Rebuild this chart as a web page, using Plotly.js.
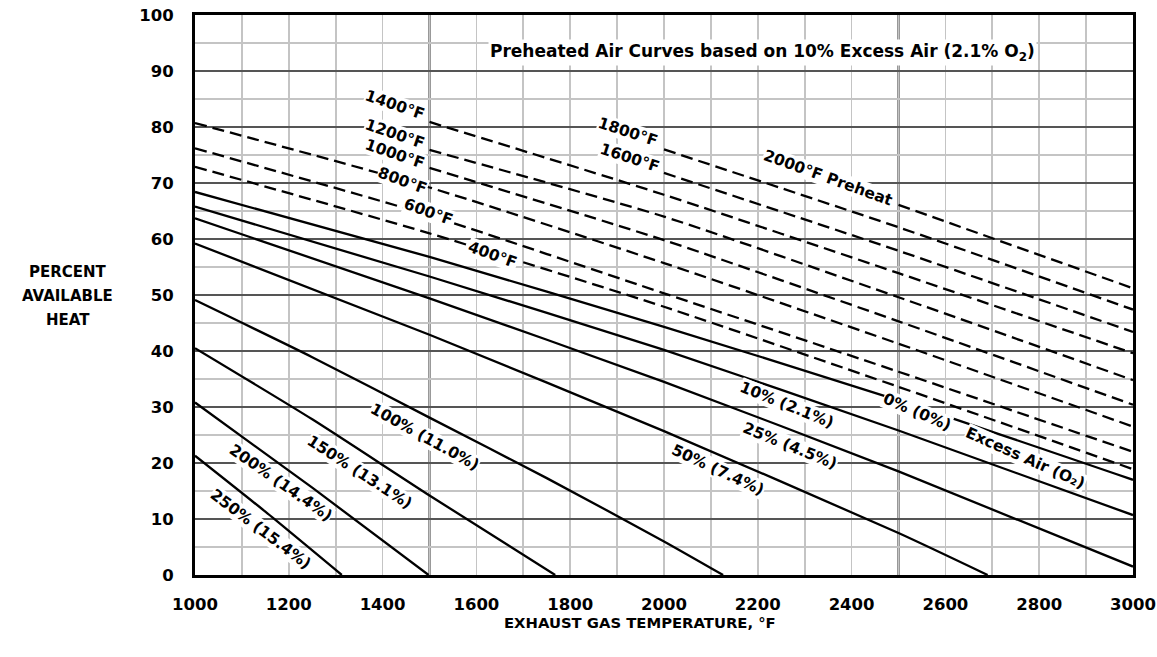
<!DOCTYPE html>
<html><head><meta charset="utf-8">
<script src="https://cdn.plot.ly/plotly-3.0.1.min.js"></script>
<style>html,body{margin:0;padding:0;background:#fff}</style>
</head><body>
<div id="chart" style="width:1157px;height:657px"></div>
<script>
// ---- tick labels ----
const xTickVals = [1000,1200,1400,1600,1800,2000,2200,2400,2600,2800,3000];
const yTickVals = [0,10,20,30,40,50,60,70,80,90,100];

// ---- excess air curves (solid), exhaust temp (°F) vs percent available heat ----
const ea0X   = [1000,1500,2000,2500,3000];
const ea0Y   = [68.4,56.8,44.3,31.2,17.0];
const ea10X  = [1000,1500,2000,2500,3000];
const ea10Y  = [65.8,53.3,40.2,25.8,10.7];
const ea25X  = [1000,1500,2000,2500,3000];
const ea25Y  = [63.7,49.4,34.5,18.5,1.5];
const ea50X  = [1000,1500,2000,2500,2690];
const ea50Y  = [59.2,42.9,25.7,7.5,0];
const ea100X = [1000,1250,1500,1750,2000,2126];
const ea100Y = [49.1,38.9,28.1,17.3,6.0,0];
const ea150X = [1000,1250,1500,1768];
const ea150Y = [40.5,27.8,14.2,0];
const ea200X = [1000,1250,1498];
const ea200Y = [30.8,15.6,0];
const ea250X = [1000,1150,1313];
const ea250Y = [21.3,11.3,0];

// ---- preheated air curves (dashed), 10% excess air ----
const ph400X  = [1000,1500,2000,2500,3000];
const ph400Y  = [72.9,61.0,47.9,33.6,18.9];
const ph600X  = [1000,1500,2000,2500,3000];
const ph600Y  = [76.2,64.2,50.3,36.3,22.0];
const ph800X  = [1000,1500,2000,2500,3000];
const ph800Y  = [80.7,69.2,55.7,41.3,26.5];
const ph1000X = [1500,2000,2500,3000];
const ph1000Y = [72.7,59.8,45.3,30.4];
const ph1200X = [1500,2000,2500,3000];
const ph1200Y = [75.9,64.0,49.6,34.8];
const ph1400X = [1500,2000,2500,3000];
const ph1400Y = [80.9,67.9,53.9,39.6];
const ph1600X = [2000,2500,3000];
const ph1600Y = [71.8,57.9,43.4];
const ph1800X = [2000,2500,3000];
const ph1800Y = [76.0,62.1,47.4];
const ph2000X = [2500,3000];
const ph2000Y = [66.1,51.2];

const solidSeries = [
  ["0%", ea0X, ea0Y], ["10%", ea10X, ea10Y], ["25%", ea25X, ea25Y], ["50%", ea50X, ea50Y],
  ["100%", ea100X, ea100Y], ["150%", ea150X, ea150Y], ["200%", ea200X, ea200Y], ["250%", ea250X, ea250Y]
];
const dashedSeries = [
  ["400°F", ph400X, ph400Y], ["600°F", ph600X, ph600Y], ["800°F", ph800X, ph800Y],
  ["1000°F", ph1000X, ph1000Y], ["1200°F", ph1200X, ph1200Y], ["1400°F", ph1400X, ph1400Y],
  ["1600°F", ph1600X, ph1600Y], ["1800°F", ph1800X, ph1800Y], ["2000°F", ph2000X, ph2000Y]
];

const traces = [];
solidSeries.forEach(s => traces.push({
  x: s[1], y: s[2], name: s[0], type: 'scatter', mode: 'lines',
  line: {color: '#000', width: 2.3, shape: 'spline', smoothing: 0.6}, hoverinfo: 'skip'
}));
dashedSeries.forEach(s => traces.push({
  x: s[1], y: s[2], name: s[0], type: 'scatter', mode: 'lines',
  line: {color: '#000', width: 2.3, dash: '12px,6px', shape: 'spline', smoothing: 0.6}, hoverinfo: 'skip'
}));

// ---- curve labels ----
const curveLabels = [
  ["1400°F", 1426, 83.9, 19], ["1200°F", 1426, 78.75, 19], ["1000°F", 1426, 75.2, 19],
  ["800°F", 1443, 70.4, 20], ["600°F", 1497, 64.8, 20], ["400°F", 1635, 57.1, 20],
  ["1800°F", 1923, 79.1, 18], ["1600°F", 1927, 74.5, 18], ["2000°F Preheat", 2350, 70.9, 20],
  ["10% (2.1%)", 2262, 30.4, 22], ["25% (4.5%)", 2269, 23.0, 22], ["50% (7.4%)", 2115, 18.75, 25],
  ["0% (0%)", 2539, 29.1, 23], ["Excess Air (O₂)", 2770, 20.9, 24],
  ["100% (11.0%)", 1490, 24.6, 29], ["150% (13.1%)", 1350, 18.4, 33],
  ["200% (14.4%)", 1183, 16.4, 35], ["250% (15.4%)", 1139, 8.2, 37]
];
const FONT = 'DejaVu Sans, sans-serif';
const annotations = curveLabels.map(l => ({
  text: l[0], x: l[1], y: l[2], xref: 'x', yref: 'y', textangle: l[3],
  showarrow: false, bgcolor: '#fff', borderpad: 0,
  font: {family: FONT, size: 15.5, color: '#000', weight: 'bold'}
}));
annotations.push({
  text: 'Preheated Air Curves based on 10% Excess Air (2.1% O<sub>2</sub>)',
  x: 2209, y: 93.3, xref: 'x', yref: 'y', showarrow: false, bgcolor: '#fff', borderpad: 1,
  font: {family: FONT, size: 17, color: '#000', weight: 'bold'}
});
annotations.push({
  text: 'EXHAUST GAS TEMPERATURE, °F', x: 0.4744, y: -0.084, xref: 'paper', yref: 'paper',
  xanchor: 'center', yanchor: 'middle', showarrow: false,
  font: {family: FONT, size: 14.8, color: '#000', weight: 'bold'}
});
const yTitleLines = ['PERCENT', 'AVAILABLE', 'HEAT'];
const yTitlePx = [272, 296, 320];
yTitleLines.forEach((t, i) => annotations.push({
  text: t, x: -0.1354, y: (575 - yTitlePx[i]) / 560, xref: 'paper', yref: 'paper',
  xanchor: 'center', yanchor: 'middle', showarrow: false,
  font: {family: FONT, size: 15, color: '#000', weight: 'bold'}
}));

const shapes = [1500, 2000, 2500].map(v => ({
  type: 'line', xref: 'x', yref: 'paper', x0: v, x1: v, y0: 0, y1: 1,
  line: {color: '#000', width: 1.8}, layer: 'below'
}));

const layout = {
  width: 1157, height: 657,
  margin: {l: 195, r: 24, t: 15, b: 82},
  paper_bgcolor: '#fff', plot_bgcolor: '#fff',
  showlegend: false,
  font: {family: FONT, color: '#000'},
  xaxis: {
    range: [1000, 3000], tickvals: xTickVals, ticktext: xTickVals.map(String),
    showgrid: true, gridcolor: '#c4c4c4', gridwidth: 1.6,
    minor: {dtick: 100, tick0: 1000, showgrid: true, gridcolor: '#c4c4c4', gridwidth: 1.6},
    showline: true, mirror: true, linecolor: '#000', linewidth: 3,
    ticks: '', ticklabelstandoff: 12, zeroline: false,
    tickfont: {family: FONT, size: 16.5, color: '#000', weight: 'bold'}
  },
  yaxis: {
    range: [0, 100], tickvals: yTickVals, ticktext: yTickVals.map(String),
    showgrid: true, gridcolor: '#555', gridwidth: 1.6,
    minor: {dtick: 5, tick0: 0, showgrid: true, gridcolor: '#c4c4c4', gridwidth: 1.6},
    showline: true, mirror: true, linecolor: '#000', linewidth: 3,
    ticks: '', ticklabelstandoff: 15, zeroline: false,
    tickfont: {family: FONT, size: 16.5, color: '#000', weight: 'bold'}
  },
  annotations: annotations,
  shapes: shapes
};

Plotly.newPlot('chart', traces, layout, {displayModeBar: false, staticPlot: true});
</script>
</body></html>
